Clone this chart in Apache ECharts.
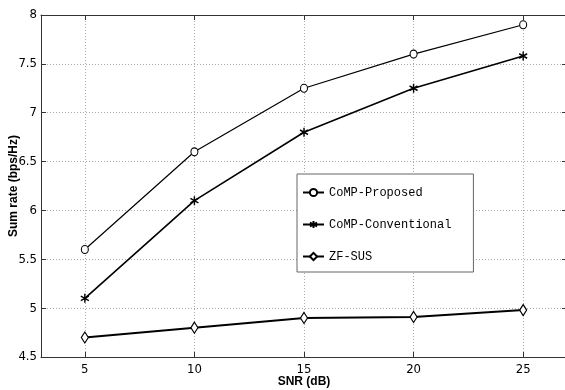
<!DOCTYPE html>
<html>
<head>
<meta charset="utf-8">
<script src="https://cdn.jsdelivr.net/npm/echarts@6/dist/echarts.min.js"></script>
<style>
  html, body { margin: 0; padding: 0; background: #fff; }
  #chart { width: 565px; height: 390px; }
</style>
</head>
<body>
<div id="chart"></div>
<script>
const snr = [5, 10, 15, 20, 25];
const compProposed = [5.6, 6.6, 7.25, 7.6, 7.9];
const compConventional = [5.1, 6.1, 6.8, 7.25, 7.58];
const zfSus = [4.7, 4.8, 4.9, 4.91, 4.98];
const xTicks = [5, 10, 15, 20, 25];

const chart = echarts.init(document.getElementById("chart"));

const tickFont = "'Liberation Sans Narrow', 'DejaVu Sans Condensed', sans-serif";
const frame = { show: true, lineStyle: { color: "#333", width: 1 } };
const grid = { show: true, lineStyle: { color: "#aaa", type: [1, 2], width: 1 } };

// 星号标记
const asterisk = "path://M5,0L5,10M0.7,2.5L9.3,7.5M0.7,7.5L9.3,2.5";

function pairs(ys) {
  return snr.map((x, i) => [x, ys[i]]);
}

chart.setOption({
  animation: false,
  backgroundColor: "#fff",
  grid: { left: 41, top: 15, right: -2, bottom: 33, outerBoundsMode: "none", containLabel: false },
  legend: {
    orient: "vertical",
    left: 297,
    top: 174,
    padding: [11, 22, 8, 5],
    itemGap: 17,
    itemWidth: 21,
    itemHeight: 9,
    backgroundColor: "#fff",
    borderColor: "#666",
    borderWidth: 1,
    textStyle: {
      fontFamily: "'Liberation Mono', monospace",
      fontSize: 12,
      lineHeight: 15,
      color: "#000",
    },
    data: ["CoMP-Proposed", "CoMP-Conventional", "ZF-SUS"],
  },
  xAxis: [
    {
      type: "value",
      min: 3,
      max: 27,
      name: "SNR (dB)",
      nameLocation: "middle",
      nameGap: 19,
      nameMoveOverlap: false,
      nameTextStyle: { fontFamily: "Arial, 'Liberation Sans', sans-serif", fontWeight: "bold", fontSize: 12, color: "#000" },
      axisLine: frame,
      axisTick: { inside: true, length: 5, customValues: xTicks, lineStyle: { color: "#333" } },
      axisLabel: { customValues: xTicks, color: "#000", fontSize: 13, fontFamily: tickFont, margin: 6 },
      splitLine: grid,
    },
    {
      type: "value",
      position: "top",
      min: 3,
      max: 27,
      axisLine: frame,
      axisTick: { inside: true, length: 5, customValues: xTicks, lineStyle: { color: "#333" } },
      axisLabel: { show: false },
      splitLine: { show: false },
    },
  ],
  yAxis: [
    {
      type: "value",
      min: 4.5,
      max: 8,
      interval: 0.5,
      name: "Sum rate (bps/Hz)",
      nameLocation: "middle",
      nameGap: 21,
      nameMoveOverlap: false,
      nameTextStyle: { fontFamily: "Arial, 'Liberation Sans', sans-serif", fontWeight: "bold", fontSize: 12, color: "#000" },
      axisLine: frame,
      axisTick: { inside: true, length: 5, lineStyle: { color: "#333" } },
      axisLabel: { color: "#000", fontSize: 13, fontFamily: tickFont, margin: 4 },
      splitLine: grid,
    },
    {
      type: "value",
      position: "right",
      min: 4.5,
      max: 8,
      interval: 0.5,
      axisLine: frame,
      axisTick: { inside: true, length: 5, lineStyle: { color: "#333" } },
      axisLabel: { show: false },
      splitLine: { show: false },
    },
  ],
  series: [
    {
      name: "CoMP-Proposed",
      type: "line",
      data: pairs(compProposed),
      symbol: "circle",
      symbolSize: [7, 8],
      lineStyle: { color: "#000", width: 1.2 },
      itemStyle: { color: "#fff", borderColor: "#000", borderWidth: 1.1 },
    },
    {
      name: "CoMP-Conventional",
      type: "line",
      data: pairs(compConventional),
      symbol: asterisk,
      symbolSize: [8, 9],
      lineStyle: { color: "#000", width: 1.6 },
      itemStyle: { color: "none", borderColor: "#000", borderWidth: 1.5 },
    },
    {
      name: "ZF-SUS",
      type: "line",
      data: pairs(zfSus),
      symbol: "diamond",
      symbolSize: [7, 11],
      lineStyle: { color: "#000", width: 2 },
      itemStyle: { color: "#fff", borderColor: "#000", borderWidth: 1.2 },
    },
  ],
});

window.addEventListener("resize", () => chart.resize());
</script>
</body>
</html>
